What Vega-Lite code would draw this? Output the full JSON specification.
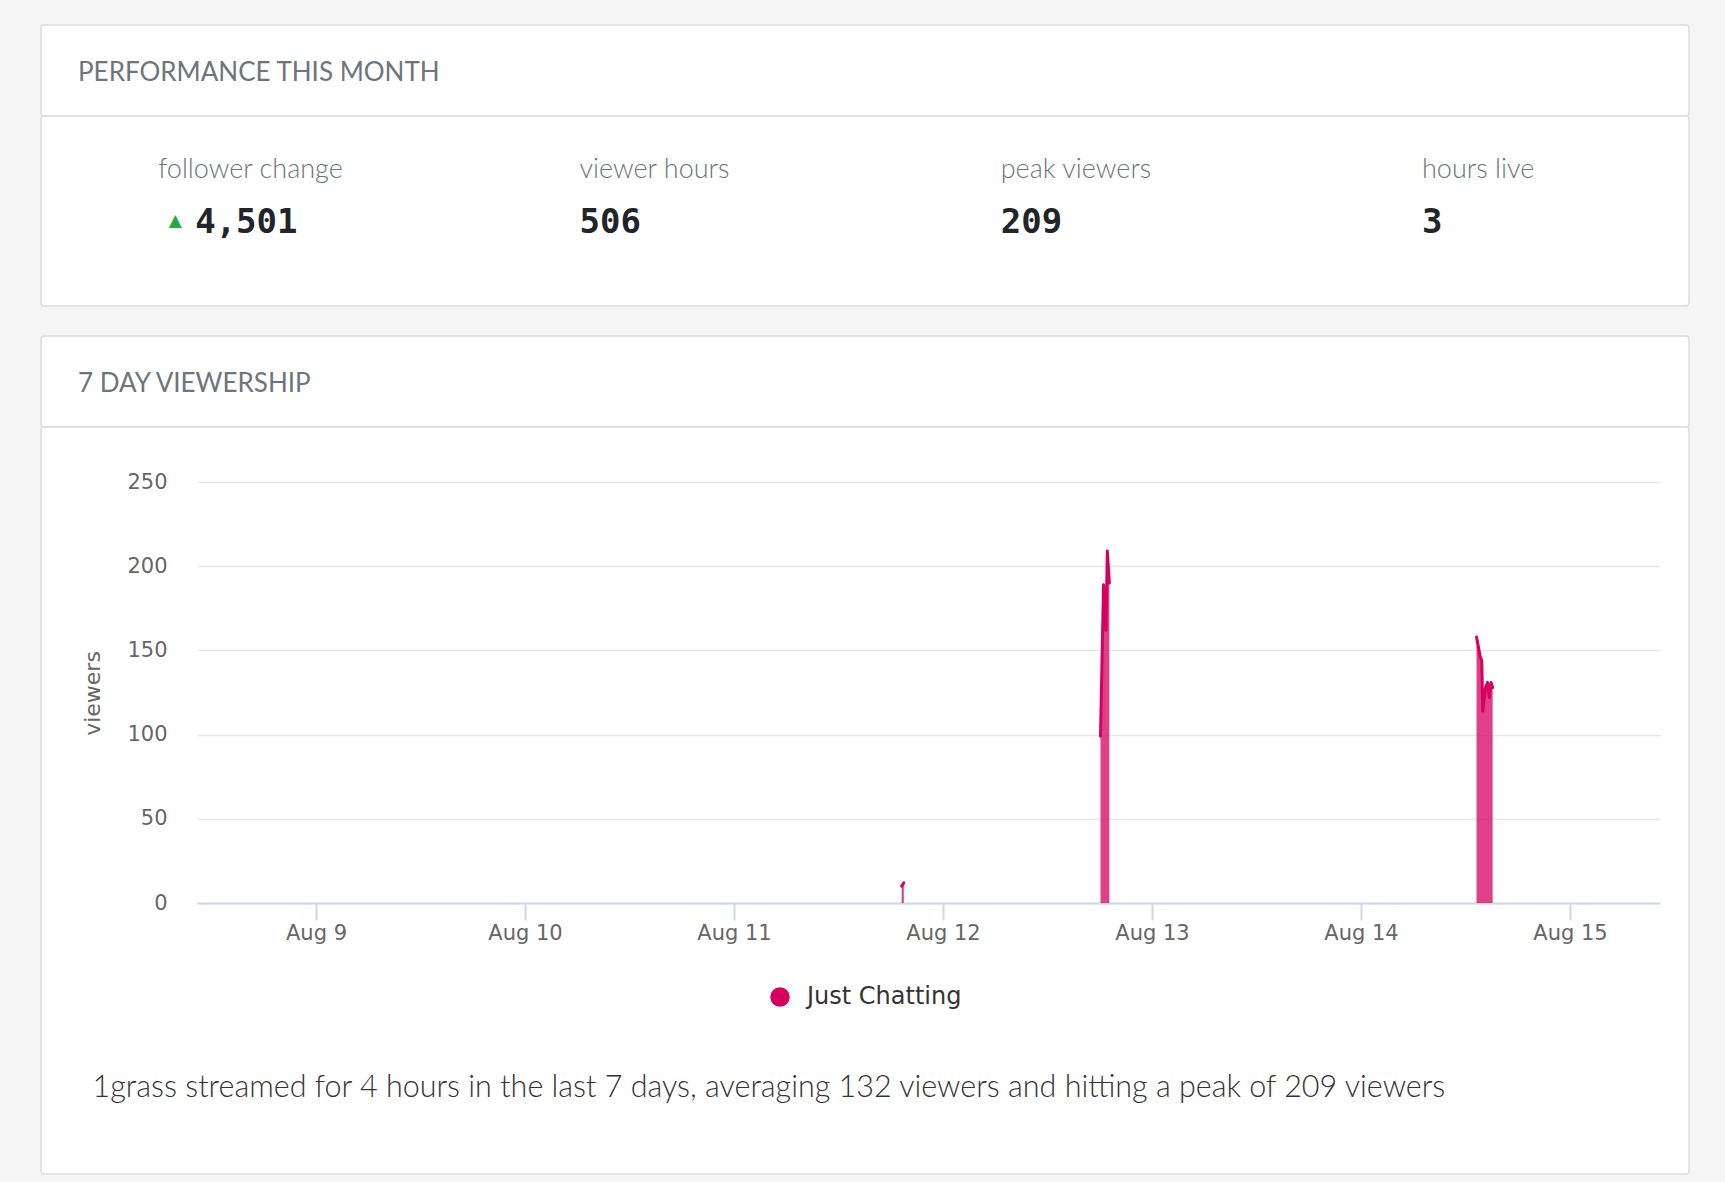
{
  "$schema": "https://vega.github.io/schema/vega-lite/v6.json",
  "background": "#f5f5f5",
  "padding": {"left": 40, "top": 24, "right": 37, "bottom": 9},
  "config": {"view": {"stroke": null}, "font": "DejaVu Sans"},
  "datasets": {
    "stats": [
      {"metric": "follower change", "value": "4,501", "trend": "up"},
      {"metric": "viewer hours", "value": "506", "trend": "none"},
      {"metric": "peak viewers", "value": "209", "trend": "none"},
      {"metric": "hours live", "value": "3", "trend": "none"}
    ],
    "viewership": [
      {"time": "2020-08-11T19:15:00", "viewers": 10, "stream": 1, "game": "Just Chatting"},
      {"time": "2020-08-11T19:30:00", "viewers": 12, "stream": 1, "game": "Just Chatting"},
      {"time": "2020-08-12T18:05:00", "viewers": 99, "stream": 2, "game": "Just Chatting"},
      {"time": "2020-08-12T18:26:00", "viewers": 189, "stream": 2, "game": "Just Chatting"},
      {"time": "2020-08-12T18:43:00", "viewers": 162, "stream": 2, "game": "Just Chatting"},
      {"time": "2020-08-12T18:52:00", "viewers": 209, "stream": 2, "game": "Just Chatting"},
      {"time": "2020-08-12T19:06:00", "viewers": 190, "stream": 2, "game": "Just Chatting"},
      {"time": "2020-08-14T13:16:00", "viewers": 158, "stream": 3, "game": "Just Chatting"},
      {"time": "2020-08-14T13:42:00", "viewers": 146, "stream": 3, "game": "Just Chatting"},
      {"time": "2020-08-14T13:52:00", "viewers": 144, "stream": 3, "game": "Just Chatting"},
      {"time": "2020-08-14T13:59:00", "viewers": 114, "stream": 3, "game": "Just Chatting"},
      {"time": "2020-08-14T14:18:00", "viewers": 128, "stream": 3, "game": "Just Chatting"},
      {"time": "2020-08-14T14:32:00", "viewers": 131, "stream": 3, "game": "Just Chatting"},
      {"time": "2020-08-14T14:44:00", "viewers": 122, "stream": 3, "game": "Just Chatting"},
      {"time": "2020-08-14T14:56:00", "viewers": 131, "stream": 3, "game": "Just Chatting"},
      {"time": "2020-08-14T15:07:00", "viewers": 128, "stream": 3, "game": "Just Chatting"}
    ]
  },
  "spacing": 0,
  "bounds": "flush",
  "vconcat": [
    {
      "width": 1648,
      "height": 91,
      "view": {"fill": "#ffffff", "stroke": "#dcdcdc", "strokeWidth": 1.5, "cornerRadius": 3},
      "title": {"text": "PERFORMANCE THIS MONTH", "orient": "top", "anchor": "start", "frame": "group", "offset": -82, "dx": 37, "baseline": "alphabetic", "font": "Lato", "fontSize": 26, "fontWeight": "normal", "color": "#6c757d"},
      "data": {"values": []},
      "mark": "text",
      "encoding": {}
    },
    {
      "width": 1648,
      "height": 190,
      "view": {"fill": "#ffffff", "stroke": "#dcdcdc", "strokeWidth": 1.5, "cornerRadius": 3},
      "data": {"name": "stats"},
      "encoding": {
        "x": {"field": "metric", "type": "nominal", "scale": {"type": "point", "domain": ["follower change", "viewer hours", "peak viewers", "hours live"], "padding": 0.456, "align": 0.305}, "axis": null}
      },
      "layer": [
        {
          "mark": {"type": "text", "align": "left", "baseline": "middle", "dy": -41, "font": "Lato", "fontWeight": 300, "fontSize": 27, "color": "#6c757d"},
          "encoding": {"text": {"field": "metric"}}
        },
        {
          "transform": [{"filter": "datum.trend === 'up'"}],
          "mark": {"type": "text", "text": "▲", "align": "center", "baseline": "middle", "dx": 17, "dy": 10, "font": "DejaVu Sans", "fontSize": 17, "color": "#28a745"}
        },
        {
          "transform": [{"filter": "datum.trend === 'up'"}],
          "mark": {"type": "text", "align": "left", "baseline": "middle", "dx": 37, "dy": 12, "font": "DejaVu Sans Mono", "fontWeight": "bold", "fontSize": 34, "color": "#212529"},
          "encoding": {"text": {"field": "value"}}
        },
        {
          "transform": [{"filter": "datum.trend !== 'up'"}],
          "mark": {"type": "text", "align": "left", "baseline": "middle", "dy": 12, "font": "DejaVu Sans Mono", "fontWeight": "bold", "fontSize": 34, "color": "#212529"},
          "encoding": {"text": {"field": "value"}}
        }
      ]
    },
    {
      "width": 1648,
      "height": 30,
      "data": {"values": []},
      "mark": "text",
      "encoding": {}
    },
    {
      "width": 1648,
      "height": 91,
      "view": {"fill": "#ffffff", "stroke": "#dcdcdc", "strokeWidth": 1.5, "cornerRadius": 3},
      "title": {"text": "7 DAY VIEWERSHIP", "orient": "top", "anchor": "start", "frame": "group", "offset": -82, "dx": 37, "baseline": "alphabetic", "font": "Lato", "fontSize": 26, "fontWeight": "normal", "color": "#6c757d"},
      "data": {"values": []},
      "mark": "text",
      "encoding": {}
    },
    {
      "width": 1648,
      "height": 747,
      "view": {"fill": "#ffffff", "stroke": "#dcdcdc", "strokeWidth": 1.5, "cornerRadius": 3},
      "data": {"name": "viewership"},
      "encoding": {
        "x": {
          "field": "time",
          "type": "temporal",
          "scale": {
            "domain": [
              {"year": 2020, "month": 8, "date": 8, "hours": 10, "minutes": 20},
              {"year": 2020, "month": 8, "date": 15, "hours": 10, "minutes": 20}
            ],
            "range": [156, 1619],
            "nice": false
          },
          "axis": {
            "orient": "bottom",
            "offset": -271,
            "format": "%b %-d",
            "tickCount": {"interval": "day", "step": 1},
            "grid": false,
            "domain": true,
            "domainColor": "#ccd6eb",
            "domainWidth": 2,
            "ticks": true,
            "tickColor": "#ccd6eb",
            "tickWidth": 2,
            "tickSize": 17,
            "labelFont": "DejaVu Sans",
            "labelFontSize": 21,
            "labelColor": "#666666",
            "labelPadding": 2,
            "labelFlush": false,
            "labelOverlap": false,
            "title": "1grass streamed for 4 hours in the last 7 days, averaging 132 viewers and hitting a peak of 209 viewers",
            "titleFont": "Lato",
            "titleFontWeight": 300,
            "titleFontSize": 30.5,
            "titleColor": "#333333",
            "titleX": 51,
            "titleY": 193,
            "titleAlign": "left",
            "titleAnchor": "start",
            "titleBaseline": "alphabetic"
          }
        },
        "y": {
          "field": "viewers",
          "type": "quantitative",
          "stack": null,
          "scale": {"domain": [0, 250], "range": [476, 55], "nice": false},
          "axis": {
            "orient": "left",
            "offset": -126,
            "values": [0, 50, 100, 150, 200, 250],
            "domain": false,
            "ticks": false,
            "tickSize": 0,
            "labelPadding": 0,
            "labelFont": "DejaVu Sans",
            "labelFontSize": 21,
            "labelColor": "#666666",
            "grid": true,
            "gridColor": "#e6e6e6",
            "gridWidth": 1.5,
            "title": "viewers",
            "titleFont": "DejaVu Sans",
            "titleFontSize": 22,
            "titleFontWeight": "normal",
            "titleColor": "#666666",
            "titleX": -68,
            "titleY": 266,
            "titleAlign": "center",
            "titleBaseline": "alphabetic"
          }
        },
        "color": {
          "field": "game",
          "type": "nominal",
          "scale": {"range": ["#d6005f"]},
          "legend": {
            "orient": "none",
            "legendX": 727,
            "legendY": 960,
            "direction": "horizontal",
            "title": null,
            "symbolType": "circle",
            "symbolSize": 380,
            "symbolFillColor": "#d6005f",
            "symbolStrokeColor": "#d6005f",
            "symbolStrokeWidth": 0,
            "symbolOpacity": 1,
            "labelFont": "DejaVu Sans",
            "labelFontSize": 24,
            "labelColor": "#333333",
            "labelOffset": 15
          }
        },
        "detail": {"field": "stream", "type": "nominal"}
      },
      "layer": [
        {"mark": {"type": "area", "fillOpacity": 0.75}},
        {"mark": {"type": "line", "strokeWidth": 3, "strokeJoin": "round", "strokeCap": "round"}}
      ]
    }
  ]
}
